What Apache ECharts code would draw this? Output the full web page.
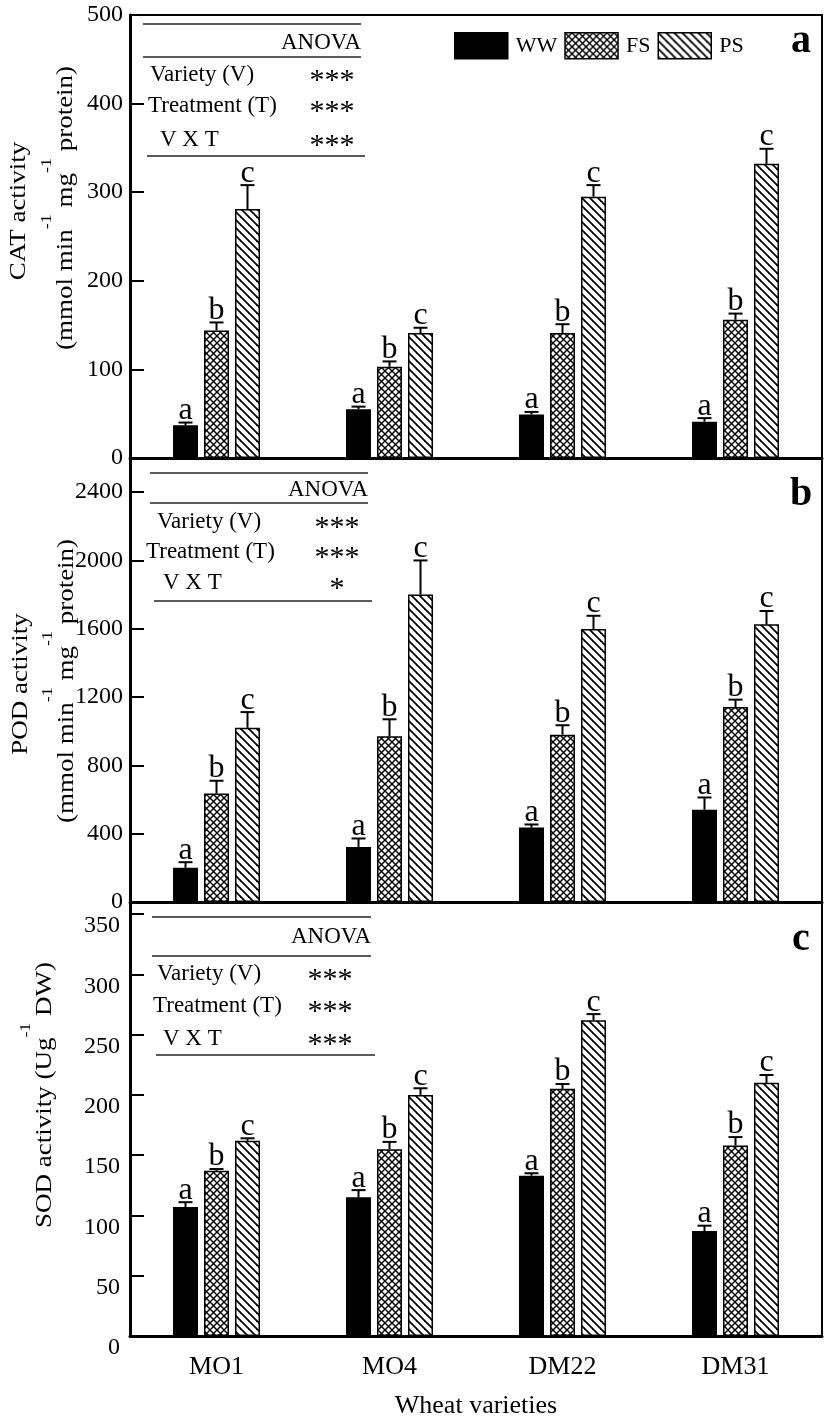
<!DOCTYPE html>
<html>
<head>
<meta charset="utf-8">
<script src="https://cdn.jsdelivr.net/npm/echarts@6/dist/echarts.min.js"></script>
<style>
  html, body { margin: 0; padding: 0; background: #fff; }
  #main { width: 827px; height: 1420px; }
</style>
</head>
<body>
<div id="main"></div>
<script>
// wheat varieties and water treatments
const varieties = ['MO1', 'MO4', 'DM22', 'DM31'];
const treatments = ['WW', 'FS', 'PS'];
const letters = ['a', 'b', 'c'];

// CAT activity
const catWW = [37, 55, 49, 41];
const catFS = [144, 103, 141, 156];
const catPS = [281, 141, 295, 332];
const catErrWW = [3, 3, 3, 4];
const catErrFS = [9, 6, 10, 7];
const catErrPS = [27, 6, 13, 17];

// POD activity
const podWW = [200, 322, 436, 540];
const podFS = [635, 970, 980, 1142];
const podPS = [1020, 1800, 1598, 1626];
const podErrWW = [33, 50, 18, 72];
const podErrFS = [75, 100, 55, 43];
const podErrPS = [92, 200, 78, 78];

// SOD activity
const sodWW = [107, 115, 133, 87];
const sodFS = [137, 155, 205, 158];
const sodPS = [162, 200, 262, 210];
const sodErrWW = [4, 6, 2, 4.5];
const sodErrFS = [1.5, 6, 4, 7];
const sodErrPS = [2, 5.5, 5, 6.5];

// ANOVA
const anovaTerms = ['Variety (V)', 'Treatment (T)', 'V X T'];
const anovaCAT = ['***', '***', '***'];
const anovaPOD = ['***', '***', '*'];
const anovaSOD = ['***', '***', '***'];

const serif = '"Liberation Serif", "Times New Roman", serif';
const barW = 25;
const gapPx = 6;
const capW = 14;

// hatch fills
function makeTile(size, draw) {
  const c = document.createElement('canvas');
  c.width = size;
  c.height = size;
  const ctx = c.getContext('2d');
  ctx.fillStyle = '#fff';
  ctx.fillRect(0, 0, size, size);
  ctx.strokeStyle = '#000';
  draw(ctx, size);
  return { image: c, repeat: 'repeat' };
}
const crossFill = makeTile(7, (ctx, s) => {
  ctx.lineWidth = 1.4;
  for (let k = -1; k <= 1; k++) {
    ctx.beginPath();
    ctx.moveTo(k * s - 1, -1);
    ctx.lineTo(k * s + s + 1, s + 1);
    ctx.stroke();
    ctx.beginPath();
    ctx.moveTo(k * s - 1, s + 1);
    ctx.lineTo(k * s + s + 1, -1);
    ctx.stroke();
  }
});
const diagFill = makeTile(8, (ctx, s) => {
  ctx.lineWidth = 1.8;
  for (let k = -1; k <= 1; k++) {
    ctx.beginPath();
    ctx.moveTo(k * s - 1, -1);
    ctx.lineTo(k * s + s + 1, s + 1);
    ctx.stroke();
  }
});
const fills = ['#000', crossFill, diagFill];

const panels = [
  { means: [catWW, catFS, catPS], errs: [catErrWW, catErrFS, catErrPS], max: 500, interval: 100 },
  { means: [podWW, podFS, podPS], errs: [podErrWW, podErrFS, podErrPS], max: 2600, interval: 400 },
  { means: [sodWW, sodFS, sodPS], errs: [sodErrWW, sodErrFS, sodErrPS], max: 360, interval: 50 }
];
const grids = [
  { left: 130, right: 5, top: 15, height: 443 },
  { left: 130, right: 5, top: 458, height: 444 },
  { left: 130, right: 5, top: 902, height: 446 }
];

function errRender(t) {
  return function (params, api) {
    const base = api.coord([api.value(0), api.value(1)]);
    const top = api.coord([api.value(0), api.value(1) + api.value(2)]);
    const x = base[0] + (t - 1) * (barW + gapPx);
    return {
      type: 'group',
      children: [
        { type: 'line', shape: { x1: x, y1: base[1], x2: x, y2: top[1] }, style: { stroke: '#000', lineWidth: 2 } },
        { type: 'line', shape: { x1: x - capW / 2, y1: top[1], x2: x + capW / 2, y2: top[1] }, style: { stroke: '#000', lineWidth: 2 } },
        { type: 'text', style: { text: letters[t], x: x, y: top[1] + 4, align: 'center', verticalAlign: 'bottom', fontSize: 32, fontFamily: serif, fill: '#000' } }
      ]
    };
  };
}

const xAxes = [];
const yAxes = [];
const series = [];
panels.forEach((p, i) => {
  const last = i === 2;
  xAxes.push({
    type: 'category', gridIndex: i, data: varieties, z: 5,
    axisLine: { lineStyle: { color: '#000', width: 3 } },
    axisTick: { inside: true, alignWithLabel: true, length: 12, lineStyle: { color: '#000', width: 1.5 } },
    axisLabel: { show: last, color: '#000', fontSize: 26, fontFamily: serif, margin: 18 },
    name: last ? 'Wheat varieties' : '',
    nameLocation: 'middle', nameGap: 57,
    nameTextStyle: { color: '#000', fontSize: 26, fontFamily: serif }
  });
  yAxes.push({
    type: 'value', gridIndex: i, min: 0, max: p.max, interval: p.interval,
    splitLine: { show: false },
    axisLine: { show: true, lineStyle: { color: '#000', width: 3 } },
    axisTick: { show: true, inside: true, length: 14, lineStyle: { color: '#000', width: 2 } },
    axisLabel: {
      color: '#000', fontSize: 24, fontFamily: serif, margin: last ? 10 : 7,
      showMaxLabel: i === 0,
      verticalAlign: last ? 'top' : 'middle',
      formatter: v => String(v)
    }
  });
  treatments.forEach((t, k) => {
    series.push({
      type: 'bar', name: t, xAxisIndex: i, yAxisIndex: i,
      data: p.means[k], barWidth: barW, barGap: (gapPx / barW * 100) + '%',
      itemStyle: { color: fills[k], borderColor: '#000', borderWidth: 1.5 },
      silent: true
    });
  });
  treatments.forEach((t, k) => {
    series.push({
      type: 'custom', xAxisIndex: i, yAxisIndex: i, z: 10, silent: true, clip: false,
      data: p.means[k].map((v, j) => [j, v, p.errs[k][j]]),
      encode: { x: 0, y: 1 },
      renderItem: errRender(k)
    });
  });
});

// ANOVA tables
const tableLayout = [
  { x0: 143, x1: 361, top: 24, head: 43, mid: 57, rows: [75, 106, 140], bottom: 156, textX: [150, 148, 160], starX: 332, sig: anovaCAT },
  { x0: 150, x1: 368, top: 473, head: 490, mid: 503, rows: [522, 552, 583], bottom: 601, textX: [157, 146, 163], starX: 337, sig: anovaPOD },
  { x0: 152, x1: 371, top: 917, head: 937, mid: 956, rows: [974, 1006, 1039], bottom: 1055, textX: [157, 153, 163], starX: 330, sig: anovaSOD }
];
const graphics = [];
const txt = (x, y, text, extra) => Object.assign({
  type: 'text', x: x, y: y,
  style: Object.assign({ text: text, fontSize: 23, fontFamily: serif, fill: '#000', verticalAlign: 'middle' }, extra || {})
});
const hline = (x0, x1, y) => ({ type: 'line', shape: { x1: x0, y1: y, x2: x1, y2: y }, style: { stroke: '#222', lineWidth: 1.5 } });
tableLayout.forEach(L => {
  graphics.push(hline(L.x0, L.x1, L.top));
  graphics.push(txt(L.x1, L.head, 'ANOVA', { align: 'right' }));
  graphics.push(hline(L.x0, L.x1, L.mid));
  anovaTerms.forEach((term, r) => {
    graphics.push(txt(L.textX[r], L.rows[r], term, { align: 'left' }));
    graphics.push(txt(L.starX, L.rows[r] + 6, L.sig[r], { align: 'center', fontSize: 30 }));
  });
  graphics.push(hline(L.x0 + 4, L.x1 + 4, L.bottom));
});

// panel letters
[['a', 42], ['b', 495], ['c', 940]].forEach(d => {
  graphics.push(txt(801, d[1], d[0], { align: 'center', fontSize: 40, fontWeight: 'bold' }));
});

// y axis titles (rotated, squeezed like the original figure)
const supRich = { s: { fontSize: 18, lineHeight: 12, verticalAlign: 'top', fontFamily: serif, fill: '#000' } };
const rot = (x, y, text, size, rich) => ({
  type: 'text', x: x, y: y, rotation: Math.PI / 2, scaleY: 0.85,
  style: { text: text, fontSize: size, fontFamily: serif, fill: '#000', align: 'center', verticalAlign: 'middle', lineHeight: rich ? 62 : undefined, rich: rich || undefined }
});
graphics.push(rot(19, 211, 'CAT activity', 27));
graphics.push(rot(66, 208, '(mmol min{s|-1} mg{s|-1} protein)', 27, supRich));
graphics.push(rot(21, 684, 'POD activity', 27));
graphics.push(rot(67, 681, '(mmol min{s|-1} mg{s|-1} protein)', 27, supRich));
graphics.push(rot(45, 1095, 'SOD activity (Ug{s|-1} DW)', 27, supRich));

const chart = echarts.init(document.getElementById('main'));
chart.setOption({
  animation: false,
  backgroundColor: '#fff',
  grid: grids.map(g => Object.assign({ show: true, borderColor: '#000', borderWidth: 2 }, g)),
  xAxis: xAxes,
  yAxis: yAxes,
  legend: {
    data: treatments, left: 449, top: 27, itemWidth: 53, itemHeight: 26, itemGap: 7,
    icon: 'rect',
    textStyle: { color: '#000', fontSize: 22, fontFamily: serif, padding: [0, 0, 0, 3] },
    itemStyle: { borderColor: '#000', borderWidth: 1.5 }
  },
  series: series,
  graphic: graphics
});
</script>
</body>
</html>
